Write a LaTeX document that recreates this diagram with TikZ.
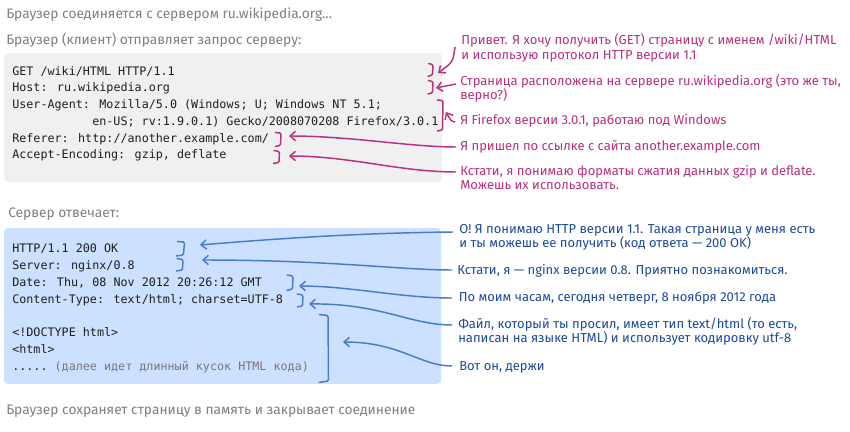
\documentclass[tikz,border=0pt]{standalone}
\usepackage{fontspec}
\setmainfont{Fira Sans}
\newfontfamily\codefont{DejaVu Sans Mono}
\usetikzlibrary{arrows.meta}
\definecolor{pinkc}{HTML}{B8307F}
\definecolor{bluet}{HTML}{1D4A9C}
\definecolor{bluel}{HTML}{4A7BCB}
\definecolor{greybox}{HTML}{F0F0F0}
\definecolor{bluebox}{HTML}{CCE0FF}
\definecolor{titlec}{HTML}{7F7F7F}
\definecolor{codec}{HTML}{1E1E1E}
\definecolor{codegrey}{HTML}{777777}
\begin{document}
\begin{tikzpicture}[x=0.75pt,y=-0.75pt,
  txt/.style={anchor=base west,inner sep=0pt,font=\fontsize{9.75pt}{11pt}\selectfont},
  ttl/.style={anchor=base west,inner sep=0pt,font=\fontsize{10.3pt}{12pt}\selectfont,text=titlec},
  code/.style={anchor=base west,inner sep=0pt,font=\codefont\fontsize{8.8pt}{10pt}\selectfont,text=codec},
  pnote/.style={txt,text=pinkc},
  bnote/.style={txt,text=bluet},
  pbr/.style={draw=pinkc,line width=1.1pt,rounded corners=1pt},
  bbr/.style={draw=bluel,line width=1.1pt,rounded corners=1pt},
  parr/.style={draw=pinkc,line width=1.1pt,-{Straight Barb[length=4pt,width=7pt]}},
  barr/.style={draw=bluel,line width=1.1pt,-{Straight Barb[length=4pt,width=7pt]}}
]
\useasboundingbox (0,0) rectangle (850,432);
\fill[white] (0,0) rectangle (850,432);

% titles
\node[ttl] (t1) at (6,18) {Браузер соединяется с сервером ru.wikipedia.org...};
\node[ttl] (t2) at (6,45) {Браузер (клиент) отправляет запрос серверу:};
\node[ttl] (t3) at (8,217) {Сервер отвечает:};
\node[ttl] (t4) at (6,414) {Браузер сохраняет страницу в память и закрывает соединение};

% boxes
\fill[greybox,rounded corners=3pt] (4,53) rectangle (442,182);
\fill[bluebox,rounded corners=3pt] (4,228) rectangle (441,384);

% request
\node[code] (r1) at (12,75) {GET /wiki/HTML HTTP/1.1};
\node[code] (r2) at (12,91.8) {Host: ru.wikipedia.org};
\node[code] (r3) at (12,108.5) {User-Agent: Mozilla/5.0 (Windows; U; Windows NT 5.1;};
\node[code] (r4) at (92,125.3) {en-US; rv:1.9.0.1) Gecko/2008070208 Firefox/3.0.1};
\node[code] (r5) at (12,142) {Referer: http://another.example.com/};
\node[code] (r6) at (12,158.8) {Accept-Encoding: gzip, deflate};

% response
\node[code] (s1) at (12,252.7) {HTTP/1.1 200 OK};
\node[code] (s2) at (12,269.5) {Server: nginx/0.8};
\node[code] (s3) at (12,286.3) {Date: Thu, 08 Nov 2012 20:26:12 GMT};
\node[code] (s4) at (12,303) {Content-Type: text/html; charset=UTF-8};
\node[code] (s5) at (12,336.7) {<!DOCTYPE html>};
\node[code] (s6) at (12,353.5) {<html>};
\node[code] (s7) at (12,370.3) {.....\ \textcolor{codegrey}{(далее идет длинный кусок HTML кода)}};

% pink notes
\node[pnote] (p1a) at (461,45) {Привет. Я хочу получить (GET) страницу с именем /wiki/HTML};
\node[pnote] (p1b) at (461,59) {и использую протокол HTTP версии 1.1};
\node[pnote] (p2a) at (460,85) {Страница расположена на сервере ru.wikipedia.org (это же ты,};
\node[pnote] (p2b) at (460,99) {верно?)};
\node[pnote] (p3) at (460,124) {Я Firefox версии 3.0.1, работаю под Windows};
\node[pnote] (p4) at (460,150.7) {Я пришел по ссылке с сайта another.example.com};
\node[pnote] (p5a) at (460,175.7) {Кстати, я понимаю форматы сжатия данных gzip и deflate.};
\node[pnote] (p5b) at (460,189.5) {Можешь их использовать.};

% blue notes
\node[bnote] (b1a) at (459,233.3) {О! Я понимаю HTTP версии 1.1. Такая страница у меня есть};
\node[bnote] (b1b) at (459,247.7) {и ты можешь ее получить (код ответа — 200 OK)};
\node[bnote] (b2) at (457,274) {Кстати, я — nginx версии 0.8. Приятно познакомиться.};
\node[bnote] (b3) at (458.5,301.7) {По моим часам, сегодня четверг, 8 ноября 2012 года};
\node[bnote] (b4a) at (458,328.3) {Файл, который ты просил, имеет тип text/html (то есть,};
\node[bnote] (b4b) at (458,342.7) {написан на языке HTML) и использует кодировку utf-8};
\node[bnote] (b5) at (459,370) {Вот он, держи};

% pink brackets
\draw[pbr] (428,63.5) -- (433,64.5) -- (432.5,75) -- (427.5,76.5);
\draw[pbr] (428,80.5) -- (433,81.5) -- (432.5,93) -- (427.5,94);
\draw[pbr] (437,100) -- (443,100.5) -- (442.5,130) -- (437,131);
\draw[pbr] (275,132.5) -- (281,133) -- (280.5,145.5) -- (275,146.5);
\draw[pbr] (273.5,150.5) -- (279.5,151.5) -- (279,162.5) -- (273,163.5);

% blue brackets
\draw[bbr] (177,241.5) -- (184.5,242) -- (183.5,255) -- (176,256);
\draw[bbr] (176.5,258.5) -- (183,259.5) -- (182.5,270) -- (176,271);
\draw[bbr] (287,275) -- (293,276) -- (292.5,289) -- (286.5,290.5);
\draw[bbr] (297,294) -- (303,295) -- (302.5,306) -- (297,307);
\draw[bbr] (319,314.5) -- (328,315.5) -- (328.5,381) -- (318.5,382.5);

% connector endpoints
\coordinate (pn1) at (455,47);
\coordinate (pb1) at (438,73);
\coordinate (pn2) at (456,84);
\coordinate (pb2) at (436,88);
\coordinate (pn3) at (455,122);
\coordinate (pb3) at (446,112);
\coordinate (pn4) at (456,147);
\coordinate (pb4) at (289,136);
\coordinate (pn5) at (456,172);
\coordinate (pb5) at (289,156);
\coordinate (bn1) at (453,232);
\coordinate (bb1) at (200,245);
\coordinate (bn2) at (452,270);
\coordinate (bb2) at (202,260);
\coordinate (bn3) at (452,298);
\coordinate (bb3) at (299,286);
\coordinate (bn4) at (452,325);
\coordinate (bb4) at (309,304);
\coordinate (bn5) at (452,366);
\coordinate (bb5) at (343,342);

% pink connectors
\draw[parr] (pn1) .. controls (453,62) .. (pb1);
\draw[parr] (pn2) .. controls (446,86) .. (pb2);
\draw[parr] (pn3) .. controls (451,121) .. (pb3);
\draw[parr] (pn4) .. controls (410,147) and (350,136) .. (pb4);
\draw[parr] (pn5) .. controls (400,172) and (350,156) .. (pb5);

% blue connectors
\draw[barr] (bn1) .. controls (350,233) and (260,240) .. (bb1);
\draw[barr] (bn2) .. controls (400,270) and (330,260) .. (bb2);
\draw[barr] (bn3) .. controls (400,298) and (350,286) .. (bb3);
\draw[barr] (bn4) .. controls (410,325) and (380,303) .. (bb4);
\draw[barr] (bn5) .. controls (420,366) and (400,342) .. (bb5);
\end{tikzpicture}
\end{document}
